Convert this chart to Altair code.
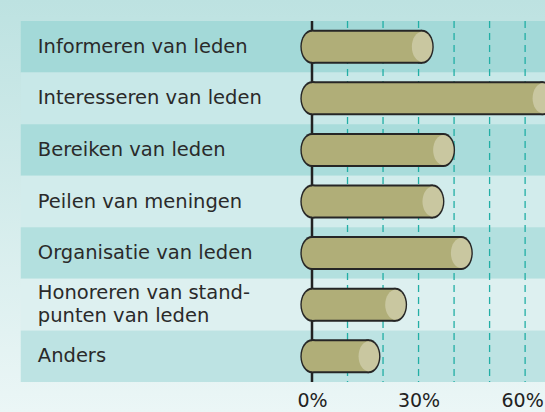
import altair as alt
import pandas as pd

# ---- data ----
categories = [
    "Informeren van leden",
    "Interesseren van leden",
    "Bereiken van leden",
    "Peilen van meningen",
    "Organisatie van leden",
    "Honoreren van stand-\npunten van leden",
    "Anders",
]
values = [31, 65, 37, 34, 42, 23.5, 16]
grid_values = [10, 20, 30, 40, 50, 60]
tick_values = [0, 30, 60]

# ---- styles ----
row_colors = ["#a3d9d8", "#c8e8e8", "#a9dcdb", "#d2ecec", "#b3e0df", "#ddf0f0", "#bde3e3"]
OLIVE = "#b0ae78"
FACE = "#c9c7a0"
OUTLINE = "#262626"
FONT = "DejaVu Sans"

X_MIN, X_MAX = 0, 65.6
W, H = 233, 361

df = pd.DataFrame({"key": categories, "value": values})
df["multi"] = df["key"].str.contains("\n")
grid_df = pd.DataFrame({"g": grid_values})
one = pd.DataFrame({"a": [0]})

xscale = alt.Scale(domain=[X_MIN, X_MAX], nice=False, zero=False)
xaxis = alt.Axis(
    values=tick_values, labelExpr="datum.value + '%'", title=None,
    domain=False, ticks=False, grid=False, labelFont=FONT, labelFontSize=19,
    labelColor="#222222", labelBaseline="alphabetic", labelPadding=24.5,
    labelFlush=False, labelOverlap=False, zindex=2,
    labelOffset={"expr": "datum.value == 60 ? -3 : 0"},
)
yscale = alt.Scale(domain=categories, paddingInner=0, paddingOuter=0)


def Y():
    return alt.Y("key:N", scale=yscale, axis=None, sort=categories)


def Xd(v):
    return alt.X(datum=v, type="quantitative", scale=xscale, axis=xaxis)


def Xf(f):
    return alt.X(f, type="quantitative", scale=xscale, axis=xaxis)


a, k = 0.685, 0.5523
ellipse = (
    f"M {a} 0 C {a} {k} {a*k:.4f} 1 0 1 C {-a*k:.4f} 1 {-a} {k} {-a} 0 "
    f"C {-a} {-k} {-a*k:.4f} -1 0 -1 C {a*k:.4f} -1 {a} {-k} {a} 0 Z"
)
OUT_H, IN_H = 34, 30

bg = alt.Chart(one).mark_rect(
    fill=alt.Gradient(
        gradient="linear",
        stops=[alt.GradientStop(color="#bde2e1", offset=0),
               alt.GradientStop(color="#ebf6f6", offset=1)],
        x1=0, x2=0, y1=0, y2=1,
    )
).encode(x=Xd(-88), x2=alt.X2(datum=70), y=alt.value(-21), y2=alt.value(391))

bands = alt.Chart(df).mark_rect().encode(
    x=Xd(-82), x2=alt.X2(datum=70), y=Y(),
    color=alt.Color("key:N", scale=alt.Scale(domain=categories, range=row_colors), legend=None),
)

grid = alt.Chart(grid_df).mark_rule(
    strokeDash=[7, 5], color="#22aea5", strokeWidth=1.3
).encode(x=Xf("g"))

zero = alt.Chart(one).mark_rule(color="#222222", strokeWidth=2.5).encode(x=Xd(0))

outer_l = alt.Chart(df).mark_point(
    shape=ellipse, size=OUT_H ** 2, filled=True, color=OUTLINE, opacity=1, strokeWidth=0
).encode(x=Xd(0), y=Y())
outer_r = alt.Chart(df).mark_point(
    shape=ellipse, size=OUT_H ** 2, filled=True, color=OUTLINE, opacity=1, strokeWidth=0
).encode(x=Xf("value"), y=Y())
outer_body = alt.Chart(df).mark_bar(size=OUT_H, color=OUTLINE).encode(
    x=Xf("value"), x2=alt.X2(datum=0), y=Y()
)

inner_l = alt.Chart(df).mark_point(
    shape=ellipse, size=IN_H ** 2, filled=True, color=OLIVE, opacity=1, strokeWidth=0
).encode(x=Xd(0), y=Y())
inner_body = alt.Chart(df).mark_bar(size=IN_H, color=OLIVE).encode(
    x=Xf("value"), x2=alt.X2(datum=0), y=Y()
)
face = alt.Chart(df).mark_point(
    shape=ellipse, size=IN_H ** 2, filled=True, color=FACE, opacity=1, strokeWidth=0
).encode(x=Xf("value"), y=Y())

text_style = dict(align="left", baseline="middle", font=FONT, fontSize=19.5,
                  color="#2a2a2a", lineBreak="\n", lineHeight=23)
labels_single = alt.Chart(df).mark_text(**text_style).encode(
    x=Xd(-77.2), y=Y(), text="key:N"
).transform_filter("!datum.multi")
labels_multi = alt.Chart(df).mark_text(dy=-11.5, **text_style).encode(
    x=Xd(-77.2), y=Y(), text="key:N"
).transform_filter("datum.multi")

chart = alt.layer(
    bg, bands, grid, zero, outer_l, outer_r, outer_body, inner_l, inner_body, face,
    labels_single, labels_multi
).properties(
    width=W, height=H,
    padding={"left": 312, "top": 21, "right": 0, "bottom": 30},
    autosize=alt.AutoSizeParams(type="none"),
    background="#d5eded",
).configure_view(stroke=None)

chart.save("out.html", embed_options={"renderer": "svg", "actions": False})
